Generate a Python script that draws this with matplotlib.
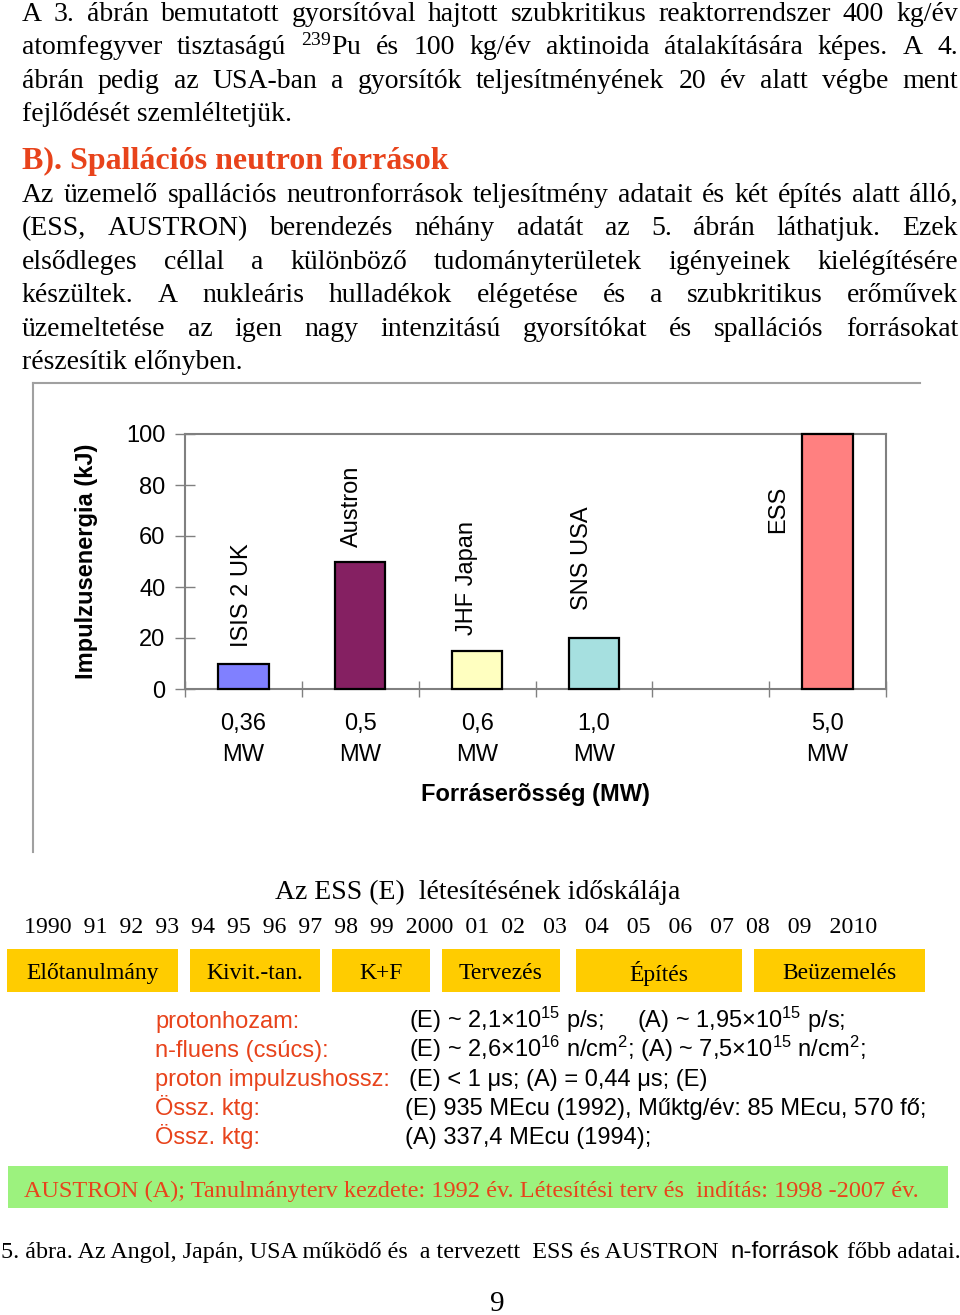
# -*- coding: utf-8 -*-
# 5. abra - spallacios neutronforrasok oldal
import numpy as np
import matplotlib
matplotlib.use('Agg')
import matplotlib.pyplot as plt
from matplotlib.patches import Rectangle
from matplotlib.lines import Line2D

plt.rcParams['font.family'] = ['Liberation Sans', 'DejaVu Sans']
plt.rcParams['mathtext.default'] = 'regular'

SERIF = 'Liberation Serif'
SANS = 'Liberation Sans'

# --- oszlopdiagram adatai
sources = ['ISIS 2 UK', 'Austron', 'JHF Japan', 'SNS USA', '', 'ESS']
energy_kj = [10, 50, 15, 20, np.nan, 100]
power_mw = ['0,36', '0,5', '0,6', '1,0', '', '5,0']
bar_colors = ['#8080FF', '#852062', '#FFFFC0', '#A6E0E0', 'none', '#FF8080']
yticks = [0, 20, 40, 60, 80, 100]

# --- ESS idoskala
years = ['1990', '91', '92', '93', '94', '95', '96', '97', '98', '99', '2000',
         '01', '02', '03', '04', '05', '06', '07', '08', '09', '2010']
year_gaps = [2] * 10 + [2, 2, 3, 3, 3, 3, 3, 2, 3, 3]
phases = ['Előtanulmány', 'Kivit.-tan.', 'K+F', 'Tervezés', 'Építés', 'Beüzemelés']
phase_start = [1989.0, 1993.5, 1997.0, 1999.7, 2003.0, 2007.4]
phase_end = [1993.2, 1996.7, 1999.4, 2002.6, 2007.1, 2011.6]

# --- parameterek
param_names = ['protonhozam:', 'n-fluens (csúcs):', 'proton impulzushossz:', 'Össz. ktg:', 'Össz. ktg:']
param_values = ['(E) ~ 2,1×10$^{15}$ p/s;     (A) ~ 1,95×10$^{15}$ p/s;',
                '(E) ~ 2,6×10$^{16}$ n/cm$^{2}$; (A) ~ 7,5×10$^{15}$ n/cm$^{2}$;',
                '(E) < 1 μs; (A) = 0,44 μs; (E)',
                '(E) 935 MEcu (1992), Műktg/év: 85 MEcu, 570 fő;',
                '(A) 337,4 MEcu (1994);']

para1 = ['A 3.  ábrán bemutatott gyorsítóval hajtott szubkritikus reaktorrendszer 400 kg/év',
         'atomfegyver tisztaságú $^{239}$Pu és 100 kg/év aktinoida átalakítására képes. A 4.',
         'ábrán pedig az USA-ban a gyorsítók teljesítményének 20 év alatt végbe ment',
         'fejlődését szemléltetjük.']
para2 = ['Az üzemelő spallációs neutronforrások teljesítmény adatait és két építés alatt álló,',
         '(ESS, AUSTRON) berendezés néhány adatát  az 5. ábrán láthatjuk. Ezek',
         'elsődleges céllal a különböző tudományterületek igényeinek kielégítésére',
         'készültek. A nukleáris hulladékok elégetése és a szubkritikus erőművek',
         'üzemeltetése az igen nagy intenzitású gyorsítókat és spallációs forrásokat',
         'részesítik előnyben.']

RED = '#E8431B'
W, H = 960, 1315
fig = plt.figure(figsize=(W / 100, H / 100), dpi=100)
R = fig.canvas.get_renderer()

# lap-tengely pixel koordinatakkal
pg = fig.add_axes([0, 0, 1, 1], zorder=0)
pg.set_xlim(0, W)
pg.set_ylim(H, 0)
pg.axis('off')


def text_w(s, **kw):
    t = pg.text(0, 0, s, **kw)
    w = t.get_window_extent(renderer=R).width
    t.remove()
    return w


def justified(line, y, x0=22, x1=958, **kw):
    words = line.split()
    ws = [text_w(w, **kw) for w in words]
    gap = (x1 - x0 - sum(ws)) / (len(words) - 1)
    x = x0
    for w, wd in zip(words, ws):
        pg.text(x, y, w, ha='left', va='baseline', **kw)
        x += wd + gap


body = dict(family=SERIF, fontsize=20)
for i, line in enumerate(para1):
    y = 21 + i * 33.4
    if i < len(para1) - 1:
        justified(line, y, **body)
    else:
        pg.text(22, y, line, va='baseline', **body)

pg.text(22, 169, 'B). Spallációs neutron források', va='baseline', family=SERIF,
        fontsize=23, fontweight='bold', color=RED)

for i, line in enumerate(para2):
    y = 202 + i * 33.4
    if i < len(para2) - 1:
        justified(line, y, **body)
    else:
        pg.text(22, y, line, va='baseline', **body)

# diagram keret
pg.add_line(Line2D([33, 920], [383, 383], color='#A0A0A0', lw=1.5))
pg.add_line(Line2D([33, 33], [383, 852], color='#A0A0A0', lw=1.5))

# --- oszlopdiagram
ax = fig.add_axes([185 / W, 1 - 689 / H, 701 / W, 255 / H], zorder=2)
ax.set_facecolor('none')
pos = np.arange(len(sources)) + 0.5
ax.bar(pos, np.nan_to_num(energy_kj), width=0.43, color=bar_colors,
       edgecolor=['black' if c != 'none' else 'none' for c in bar_colors],
       linewidth=1.6, zorder=3, clip_on=False)
ax.set_xlim(0, len(sources))
ax.set_ylim(0, 100)
ax.set_yticks(yticks)
ax.set_xticks(pos)
ax.set_xticklabels([p + '\nMW' if p else '' for p in power_mw], linespacing=1.55)
ax.set_xticks(np.arange(len(sources) + 1), minor=True)
ax.tick_params(axis='y', direction='inout', length=14, width=1, color='#808080',
               labelsize=17, pad=7)
ax.tick_params(axis='x', which='major', length=0, labelsize=17, pad=17)
ax.tick_params(axis='x', which='minor', direction='inout', length=12, width=1, color='#808080')
for s in ax.spines.values():
    s.set_color('#808080')
    s.set_linewidth(1.5)

label_dx = [-0.01, -0.07, -0.09, -0.10, 0, -0.42]
label_dy = [6.5, 5.7, 6.2, 11, 0, -39]
for p, name, v, dx, dy in zip(pos, sources, energy_kj, label_dx, label_dy):
    if name:
        ax.text(p + dx, v + dy, name, rotation=90, ha='center', va='bottom', fontsize=17)

ax.set_ylabel('Impulzusenergia (kJ)', fontsize=17, fontweight='bold', labelpad=20)
ax.set_xlabel('Forráserõsség (MW)', fontsize=17, fontweight='bold', labelpad=12)

# --- idoskala
pg.text(478, 899, 'Az ESS (E)  létesítésének időskálája', ha='center', va='baseline',
        family=SERIF, fontsize=20)
year_line = ''.join(y + ' ' * g for y, g in zip(years, year_gaps + [0]))
pg.text(24, 933, year_line, ha='left', va='baseline', family=SERIF, fontsize=17.2)

axt = fig.add_axes([0, 1 - 992 / H, 1, 43 / H], zorder=1)
axt.set_xlim(1990 - 48 / 40.6, 1990 + (W - 48) / 40.6)
axt.set_ylim(0, 1)
axt.axis('off')
ps, pe = np.array(phase_start), np.array(phase_end)
axt.barh(0.5, pe - ps, left=ps, height=1, color='#FFCC00')
for name, a, b in zip(phases, ps, pe):
    axt.text((a + b) / 2, 0.42, name, ha='center', va='center', family=SERIF, fontsize=17)

# --- parameterek
for i, (nm, val) in enumerate(zip(param_names, param_values)):
    y = 1028 + i * 29
    pg.text(155, y, nm, va='baseline', family=SANS, fontsize=17, color=RED)
    pg.text(409 if i < 3 else 405, y, val, va='baseline', family=SANS, fontsize=17)

pg.add_patch(Rectangle((8, 1166), 940, 42, color='#9CF27E', lw=0))
pg.text(24, 1197, 'AUSTRON (A); Tanulmányterv kezdete: 1992 év. Létesítési terv és  indítás: 1998 -2007 év.',
        va='baseline', family=SERIF, fontsize=17.45, color=RED)

# abrafelirat
runs = [('5. ábra. Az Angol, Japán, USA működő és  a tervezett  ESS és AUSTRON', SERIF, 17.4, 2.0),
        ('n-források', SANS, 17.4, 1.2),
        ('főbb adatai.', SERIF, 17.4, 0)]
x = 1
for txt, fam, fs, nsp in runs:
    pg.text(x, 1258, txt, va='baseline', family=fam, fontsize=fs)
    sp = text_w('a a', family=fam, fontsize=fs) - text_w('aa', family=fam, fontsize=fs)
    x += text_w(txt, family=fam, fontsize=fs) + sp * nsp

pg.text(497, 1311, '9', ha='center', va='baseline', family=SERIF, fontsize=21)

fig.savefig('out.png', dpi=100)
